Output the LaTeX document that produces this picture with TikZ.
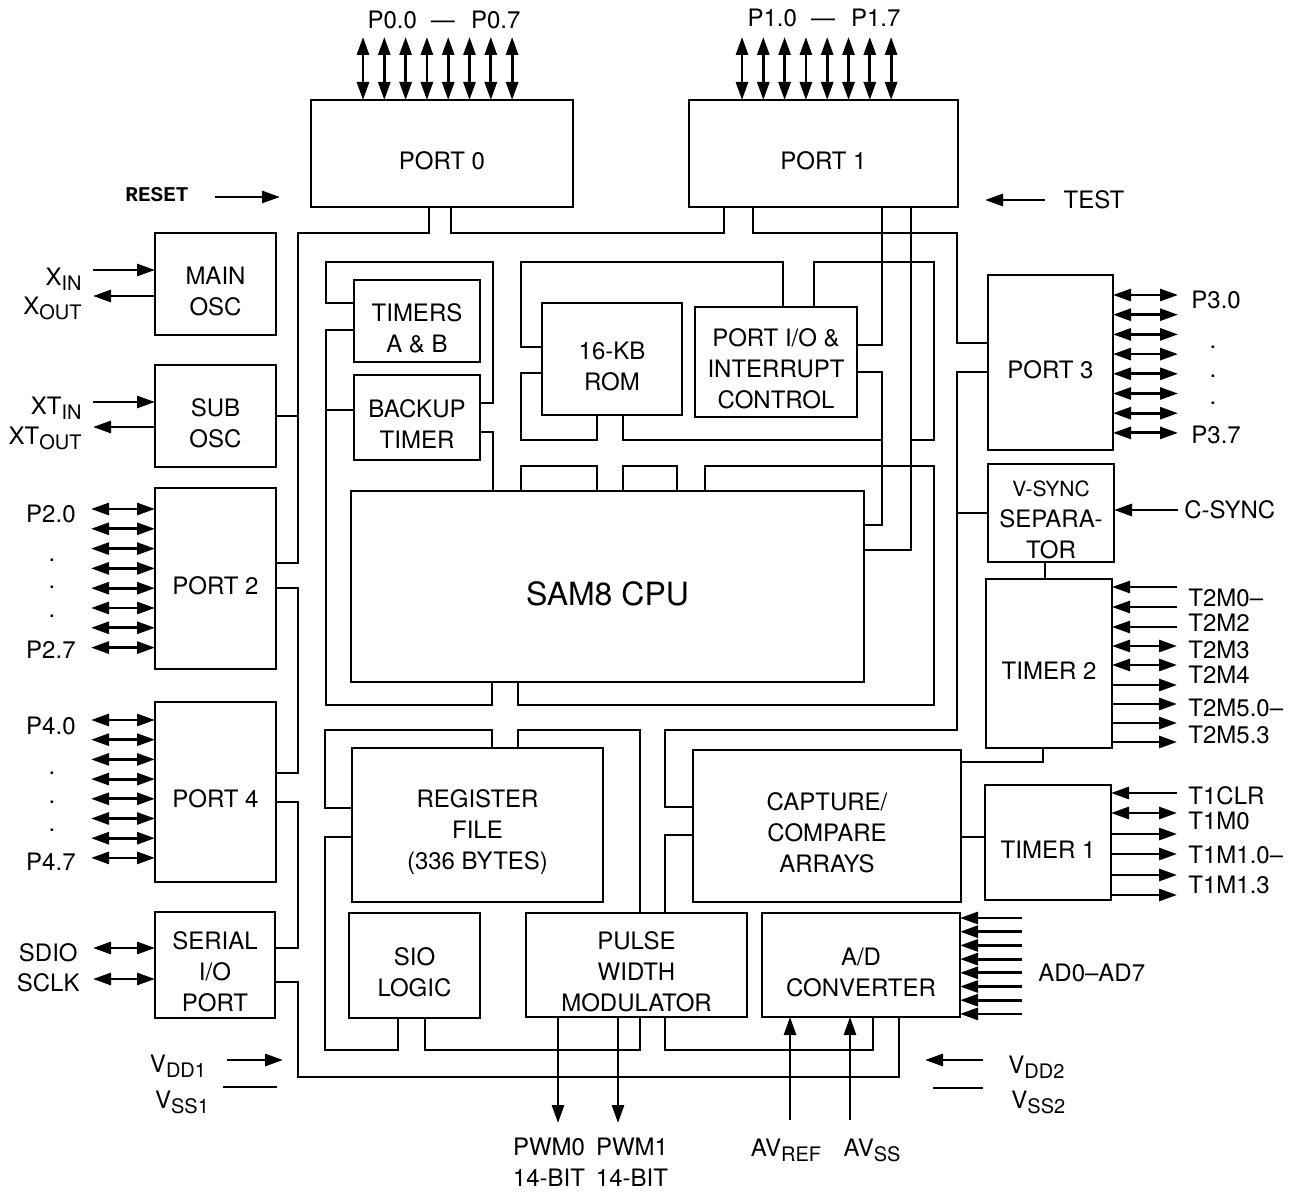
\documentclass[tikz,border=0pt]{standalone}
\usepackage{fontspec}
\setmainfont{TeX Gyre Heros}
\setmonofont{Liberation Mono}
\usetikzlibrary{arrows.meta, fit}
\newcommand{\lowsub}[1]{\raisebox{-2.5pt}{\fontsize{10}{10}\selectfont #1}}

\begin{document}
\begin{tikzpicture}[
    x=0.5pt, y=-0.5pt,
    line width=1.4pt,
    txt/.style={font=\fontsize{12}{15.5}\selectfont, align=center, inner sep=0pt},
    block/.style={rectangle, draw, inner sep=0pt, outer sep=0pt, label={[txt, yshift=-3.5pt]center:#1}},
    sigtext/.style={font=\fontsize{12}{15.5}\selectfont, inner sep=0pt},
    outarrow/.style={-{Triangle[length=9pt, width=6pt]}},
    inarrow/.style={{Triangle[length=9pt, width=6pt]}-},
    bidir/.style={{Triangle[length=9pt, width=6pt]}-{Triangle[length=9pt, width=6pt]}}
]
\useasboundingbox (0,0) rectangle (1290,1192);

% blocks
\node[block={PORT 0}, fit={(311,100) (573,207)}] (port0) {};
\node[block={PORT 1}, fit={(689,100) (958,207)}] (port1) {};
\node[block={MAIN\\OSC}, fit={(155,233) (276,335)}] (mainosc) {};
\node[block={SUB\\OSC}, fit={(155,365) (276,467)}] (subosc) {};
\node[block={PORT 2}, fit={(155,488) (276,669)}] (port2) {};
\node[block={PORT 4}, fit={(155,702) (276,882)}] (port4) {};
\node[block={SERIAL\\I/O\\PORT}, fit={(155,912) (275,1018)}] (serial) {};
\node[block={TIMERS\\A \& B}, fit={(354,280) (480,362)}] (timers) {};
\node[block={BACKUP\\TIMER}, fit={(354,375) (480,460)}] (backup) {};
\node[block={16-KB\\ROM}, fit={(542,303) (682,415)}] (rom) {};
\node[block={PORT I/O \&\\INTERRUPT\\CONTROL}, fit={(695,307) (857,417)}] (portio) {};
\node[block={\fontsize{16}{18}\selectfont SAM8 CPU}, fit={(351,491) (864,682)}] (cpu) {};
\node[block={PORT 3}, fit={(988,275) (1113,450)}] (port3) {};
\node[block={\fontsize{10.5}{13}\selectfont V-SYNC\\SEPARA-\\TOR}, fit={(988,464) (1114,562)}] (vsync) {};
\node[block={TIMER 2}, fit={(986,579) (1112,748)}] (timer2) {};
\node[block={TIMER 1}, fit={(985,785) (1111,900)}] (timer1) {};
\node[block={REGISTER\\FILE\\(336 BYTES)}, fit={(352,748) (603,902)}] (regfile) {};
\node[block={SIO\\LOGIC}, fit={(349,913) (480,1018)}] (sio) {};
\node[block={PULSE\\WIDTH\\MODULATOR}, fit={(526,913) (747,1017)}] (pwm) {};
\node[block={A/D\\CONVERTER}, fit={(762,913) (960,1017)}] (adc) {};
\node[block={CAPTURE/\\COMPARE\\ARRAYS}, fit={(693,750) (961,902)}] (capture) {};

% outer bus
\draw (port0.south -| 429,0) |- (298,233) |- (port2.east |- 0,563);
\draw (subosc.east) -- (subosc.east -| 298,0);
\draw (port2.east |- 0,588) -| (298,773) -- (port4.east |- 0,773);
\draw (port4.east |- 0,802) -| (298,948) -- (serial.east |- 0,948);
\draw (serial.east |- 0,982) -| (298,1077) -| (adc.south -| 899,0);
\draw (port0.south -| 451,0) |- (724,233) -- (port1.south -| 724,0);
\draw (port1.south -| 753,0) |- (957,233) |- (port3.west |- 0,343);
\draw (port3.west |- 0,372) -| (957,730) -| (665,807) -- (capture.west |- 0,807);
\draw (vsync.west) -- (vsync.west -| 957,0);

% upper inner bus
\draw (timers.west |- 0,303) -| (326,262) -| (493,403) -- (backup.east |- 0,403);
\draw (timers.west |- 0,330) -| (326,705) -| (cpu.south -| 492,0);
\draw (backup.west |- 0,410) -- (326,410);
\draw (backup.east |- 0,432) -| (cpu.north -| 493,0);
\draw (portio.north -| 783,0) |- (521,262) |- (rom.west |- 0,347);
\draw (rom.west |- 0,373) -| (521,440) -| (rom.south -| 597,0);
\draw (rom.south -| 623,0) |- (882,440);
\draw (port1.south -| 882,0) |- (portio.east |- 0,345);
\draw (portio.east |- 0,372) -| (882,525) -- (cpu.east |- 0,525);
\draw (port1.south -| 911,0) |- (cpu.east |- 0,550);
\draw (portio.north -| 814,0) |- (934,262) |- (911,440);
\draw (cpu.north -| 521,0) |- (597,466) -- (cpu.north -| 597,0);
\draw (cpu.north -| 623,0) |- (677,466) -- (cpu.north -| 677,0);
\draw (cpu.north -| 705,0) |- (934,466) -- (934,705) -| (cpu.south -| 518,0);

% lower inner bus
\draw (regfile.north -| 492,0) |- (325,730) |- (regfile.west |- 0,808);
\draw (regfile.north -| 518,0) |- (640,730) -- (pwm.north -| 640,0);
\draw (capture.west |- 0,835) -| (pwm.north -| 665,0);
\draw (regfile.west |- 0,837) -| (325,1050) -| (sio.south -| 398,0);
\draw (sio.south -| 425,0) |- (640,1050) -- (pwm.south -| 640,0);
\draw (pwm.south -| 665,0) |- (873,1050) -- (adc.south -| 873,0);
\draw (timer2.south -| 1043,0) |- (capture.east |- 0,762);
\draw (timer1.west |- 0,837) -- (capture.east |- 0,837);
\draw (vsync.south -| 1045,0) -- (timer2.north -| 1045,0);

% port pins
\foreach \i [evaluate=\i as \px using 363+21.3*\i] in {0,...,7} {
  \draw[bidir] (port0.north -| \px,0) -- ++(0,-63);
  \draw[bidir] (port1.north -| {742+21.3*\i},0) -- ++(0,-63);
}
\foreach \i [evaluate=\i as \py using 509+19.8*\i] in {0,...,7}
  \draw[bidir] (port2.west |- 0,\py) -- ++(-64,0);
\foreach \i [evaluate=\i as \py using 720+19.7*\i] in {0,...,7}
  \draw[bidir] (port4.west |- 0,\py) -- ++(-64,0);
\foreach \i [evaluate=\i as \py using 295+19.7*\i] in {0,...,7}
  \draw[bidir] (port3.east |- 0,\py) -- ++(65,0);
\foreach \i [evaluate=\i as \py using 918+13.7*\i] in {0,...,7}
  \draw[inarrow] (adc.east |- 0,\py) -- ++(62,0);

\node[sigtext] (p0lbl) at (444,20) {P0.0\hspace{7pt}---\hspace{8pt}P0.7};
\node[sigtext] (p1lbl) at (824,18) {P1.0\hspace{7pt}---\hspace{8pt}P1.7};
\node[sigtext, anchor=east] (p20) at (77,514) {P2.0};
\node[sigtext, anchor=east] (p27) at (77,650) {P2.7};
\node[sigtext, anchor=east] (p40) at (77,726) {P4.0};
\node[sigtext, anchor=east] (p47) at (77,862) {P4.7};
\node[sigtext, anchor=west] (p30) at (1190,300) {P3.0};
\node[sigtext, anchor=west] (p37) at (1190,435) {P3.7};
\foreach \i/\py in {1/560, 2/587, 3/616} \node[sigtext] (p2dot\i) at (52,\py) {.};
\foreach \i/\py in {1/773, 2/802, 3/830} \node[sigtext] (p4dot\i) at (52,\py) {.};
\foreach \i/\py in {1/347, 2/376, 3/403} \node[sigtext] (p3dot\i) at (1213,\py) {.};

% clocks and serial
\draw[inarrow] (mainosc.west |- 0,270) -- ++(-62,0);
\draw[outarrow] (mainosc.west |- 0,296) -- ++(-62,0);
\draw[inarrow] (subosc.west |- 0,402) -- ++(-62,0);
\draw[outarrow] (subosc.west |- 0,427) -- ++(-62,0);
\node[sigtext, anchor=east] (xin) at (83,279) {X\lowsub{IN}};
\node[sigtext, anchor=east] (xout) at (83,308) {X\lowsub{OUT}};
\node[sigtext, anchor=east] (xtin) at (83,408) {XT\lowsub{IN}};
\node[sigtext, anchor=east] (xtout) at (83,438) {XT\lowsub{OUT}};
\draw[bidir] (serial.west |- 0,948) -- ++(-62,0);
\draw[bidir] (serial.west |- 0,979) -- ++(-62,0);
\node[sigtext, anchor=east] (sdio) at (79,953) {SDIO};
\node[sigtext, anchor=east] (sclk) at (81,983) {SCLK};

% reset, test, supplies
\node[sigtext, font=\ttfamily\bfseries\fontsize{10.5}{12}\selectfont] (reset) at (157,195) {RESET};
\coordinate (reseta) at (215,197);
\draw[outarrow] (reseta) -- ++(65,0);
\node[sigtext] (test) at (1094,200) {TEST};
\coordinate (testa) at (1045,200);
\draw[outarrow] (testa) -- ++(-60,0);
\node[sigtext] (vdd1) at (178,1066) {V\lowsub{DD1}};
\node[sigtext] (vss1) at (182,1102) {V\lowsub{SS1}};
\coordinate (vdd1a) at (227,1060);
\coordinate (vss1a) at (223,1087);
\draw[outarrow] (vdd1a) -- ++(56,0);
\draw (vss1a) -- ++(54,0);
\node[sigtext, anchor=west] (vdd2) at (1007,1067) {V\lowsub{DD2}};
\node[sigtext, anchor=west] (vss2) at (1010,1102) {V\lowsub{SS2}};
\coordinate (vdd2a) at (983,1060);
\coordinate (vss2a) at (933,1088);
\draw[outarrow] (vdd2a) -- ++(-58,0);
\draw (vss2a) -- ++(50,0);

% sync and timers
\draw[inarrow] (vsync.east |- 0,510) -- ++(64,0);
\node[sigtext, anchor=west] (csync) at (1183,510) {C-SYNC};
\foreach \py in {587,607,627} \draw[inarrow] (timer2.east |- 0,\py) -- ++(65,0);
\foreach \py in {646,665} \draw[bidir] (timer2.east |- 0,\py) -- ++(65,0);
\foreach \py in {685,704,723,742} \draw[outarrow] (timer2.east |- 0,\py) -- ++(65,0);
\foreach \py in {793} \draw[inarrow] (timer1.east |- 0,\py) -- ++(66,0);
\foreach \py in {813} \draw[bidir] (timer1.east |- 0,\py) -- ++(66,0);
\foreach \py in {834,854,875,895} \draw[outarrow] (timer1.east |- 0,\py) -- ++(66,0);
\foreach \n/\py/\t in {t2a/598/T2M0--, t2b/623/T2M2, t2c/650/T2M3, t2d/675/T2M4, t2e/708/T2M5.0--, t2f/735/T2M5.3,
    t1a/796/T1CLR, t1b/821/T1M0, t1c/855/T1M1.0--, t1d/885/T1M1.3}
  \node[sigtext, anchor=west] (\n) at (1187,\py) {\t};
\node[sigtext, anchor=west] (adlbl) at (1037,973) {AD0--AD7};

% pwm and analog
\draw[outarrow] (pwm.south -| 558,0) -- ++(0,106);
\draw[outarrow] (pwm.south -| 618,0) -- ++(0,106);
\draw[inarrow] (adc.south -| 790,0) -- ++(0,103);
\draw[inarrow] (adc.south -| 850,0) -- ++(0,103);
\node[sigtext, align=center] (pwm0) at (549,1162) {PWM0\\14-BIT};
\node[sigtext, align=center] (pwm1) at (632,1162) {PWM1\\14-BIT};
\node[sigtext] (avref) at (786,1150) {AV\lowsub{REF}};
\node[sigtext] (avss) at (872,1150) {AV\lowsub{SS}};
\end{tikzpicture}
\end{document}
